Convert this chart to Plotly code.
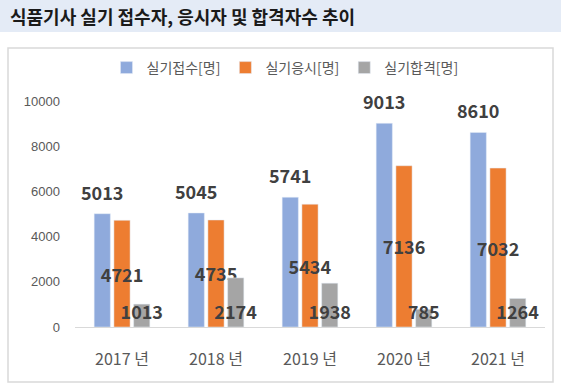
import plotly.graph_objects as go

years = ["2017 년", "2018 년", "2019 년", "2020 년", "2021 년"]
applied = [5013, 5045, 5741, 9013, 8610]
taken = [4721, 4735, 5434, 7136, 7032]
passed = [1013, 2174, 1938, 785, 1264]
series_names = ["실기접수[명]", "실기응시[명]", "실기합격[명]"]
y_ticks = [0, 2000, 4000, 6000, 8000, 10000]
y_tick_text = ["0", "2000", "4000", "6000", "8000", "10000"]

W, H = 561, 388
L, R, T, B = 75, 545, 101, 327
BARGAP, GROUPGAP = 0.37, 0.18

def px(x):
    return (x - L) / (R - L)

def py(y):
    return (B - y) / (B - T)

KFONT = "Noto Sans CJK KR"
lab_font = dict(family=KFONT, size=18, color="#404040")

fig = go.Figure()
fig.add_trace(go.Bar(name=series_names[0], x=years, y=applied, marker_color="#8faadc"))
fig.add_trace(go.Bar(name=series_names[1], x=years, y=taken, marker_color="#ed7d31",
                     text=[f"<b>{v}</b>" for v in taken], textposition="inside",
                     insidetextanchor="middle", textangle=0, insidetextfont=lab_font,
                     constraintext="none"))
fig.add_trace(go.Bar(name=series_names[2], x=years, y=passed, marker_color="#a5a5a5",
                     text=[f"<b>{v}</b>" for v in passed], textposition="inside",
                     insidetextanchor="start", textangle=0, insidetextfont=lab_font,
                     constraintext="none"))

# blue labels above bars (offset of first bar within group, in px)
cat_w = (R - L) / len(years)
slot = cat_w * (1 - BARGAP) / 3
blue_shift = -slot
annotations = [dict(x=c, y=v, xref="x", yref="y", text=f"<b>{v}</b>", showarrow=False,
                    xshift=blue_shift, yshift=22, yanchor="middle", font=lab_font)
               for c, v in zip(years, applied)]
annotations.append(dict(text="<b>식품기사 실기 접수자, 응시자 및 합격자수 추이</b>",
                        xref="paper", yref="paper", x=px(8), y=py(16), xanchor="left",
                        yanchor="middle", showarrow=False,
                        font=dict(family=KFONT, size=18, color="#1a1a1a")))

shapes = [
    dict(type="rect", xref="paper", yref="paper", x0=px(0), x1=px(W), y0=py(0), y1=py(32),
         fillcolor="#e4ebf6", line_width=0, layer="below"),
    dict(type="rect", xref="paper", yref="paper", x0=px(8), x1=px(553), y0=py(48), y1=py(382),
         fillcolor="rgba(0,0,0,0)", line=dict(color="#d9d9d9", width=1.5), layer="below"),
]

fig.update_layout(
    width=W, height=H,
    margin=dict(l=L, r=W - R, t=T, b=H - B, pad=0),
    paper_bgcolor="white", plot_bgcolor="white",
    barmode="group", bargap=BARGAP, bargroupgap=GROUPGAP,
    shapes=shapes,
    annotations=annotations,
    showlegend=True,
    legend=dict(orientation="h", x=px(285), xanchor="center", y=py(68), yanchor="middle",
                font=dict(family=KFONT, size=14, color="#595959"),
                itemwidth=30, traceorder="normal", bgcolor="rgba(0,0,0,0)"),
    xaxis=dict(showgrid=False, showline=True, linecolor="#d9d9d9", linewidth=1,
               ticks="", ticklabelstandoff=18,
               tickfont=dict(family=KFONT, size=16, color="#595959")),
    yaxis=dict(range=[0, 10000], tickvals=y_ticks, ticktext=y_tick_text, showgrid=False,
               showline=False, zeroline=False, ticks="", ticklabelstandoff=14,
               tickfont=dict(family="Liberation Sans", size=13, color="#595959")),
)

fig.write_html("out.html", config={"displayModeBar": False},
               post_script="document.body.style.margin='0';")
